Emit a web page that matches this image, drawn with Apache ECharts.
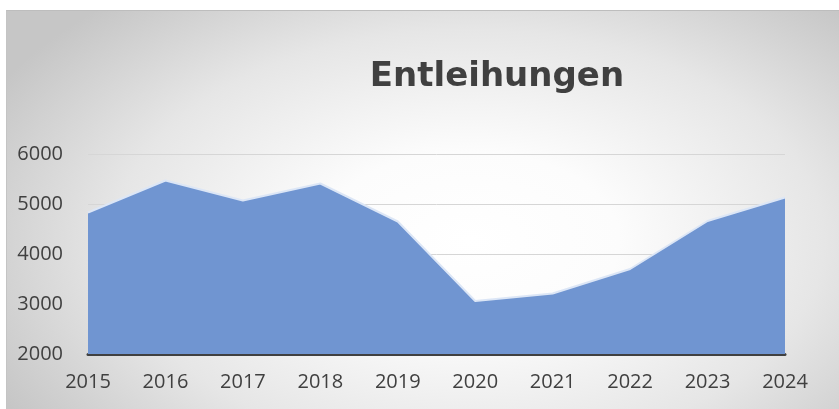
<!DOCTYPE html>
<html>
<head>
<meta charset="utf-8">
<script src="https://cdn.jsdelivr.net/npm/echarts@6/dist/echarts.min.js"></script>
<style>
  html, body { margin: 0; padding: 0; background: #fff; overflow: hidden; }
  #bg {
    position: absolute; left: 6px; top: 10px; width: 840px; height: 410px;
    border-top: 1px solid #bdbdbd; border-left: 1px solid #c4c4c4;
    background: radial-gradient(ellipse 64% 78% at 55% 56%, #ffffff 0%, #fcfcfc 28%, #e6e6e6 66%, #c6c6c6 100%);
  }
  #chart { position: absolute; left: 0; top: 0; width: 839px; height: 409px; }
</style>
</head>
<body>
<div id="bg"></div>
<div id="chart"></div>
<script>
// Entleihungen pro Jahr
const years = ['2015', '2016', '2017', '2018', '2019', '2020', '2021', '2022', '2023', '2024'];
const loans = [4830, 5470, 5070, 5410, 4650, 3060, 3210, 3700, 4660, 5130];
const yTicks = [2000, 3000, 4000, 5000, 6000];

const font = '"Open Sans", "Noto Sans", sans-serif';

let chart = echarts.init(document.getElementById('chart'), null, { renderer: 'canvas' });

chart.setOption({
  backgroundColor: 'transparent',
  animation: false,
  title: {
    text: 'Entleihungen',
    left: 492,
    top: 55,
    textAlign: 'center',
    textStyle: { fontFamily: '"DejaVu Sans", sans-serif', fontWeight: 'bold', fontSize: 34, color: '#404040' },
  },
  grid: { left: 88, right: 54, top: 154, bottom: 55 },
  xAxis: {
    type: 'category',
    data: years,
    boundaryGap: false,
    axisLine: { lineStyle: { color: '#404040', width: 3 } },
    axisTick: { show: false },
    axisLabel: { fontFamily: font, fontSize: 20, color: '#404040', margin: 18 },
  },
  yAxis: {
    type: 'value',
    min: yTicks[0],
    max: yTicks[yTicks.length - 1],
    interval: 1000,
    axisLine: { show: false },
    axisTick: { show: false },
    axisLabel: { fontFamily: font, fontSize: 20, color: '#404040', margin: 25, formatter: v => String(v) },
    splitLine: { lineStyle: { color: '#d6d6d6', width: 1 } },
  },
  series: [
    {
      type: 'line',
      data: loans,
      symbol: 'none',
      lineStyle: { color: '#dce6f6', width: 2 },
      areaStyle: { color: '#7095d1', opacity: 1, origin: 'start' },
      z: 1,
    },
  ],
});
</script>
</body>
</html>
